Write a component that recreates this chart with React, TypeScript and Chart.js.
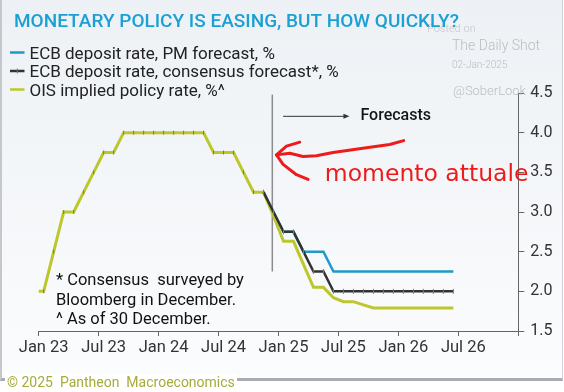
import React, { useEffect, useRef } from "react";
import { Chart, registerables } from "chart.js";

Chart.register(...registerables);

// ---------- data ----------
const months = [
  "Dec 22",
  "Jan 23", "Feb 23", "Mar 23", "Apr 23", "May 23", "Jun 23", "Jul 23", "Aug 23", "Sep 23", "Oct 23", "Nov 23", "Dec 23",
  "Jan 24", "Feb 24", "Mar 24", "Apr 24", "May 24", "Jun 24", "Jul 24", "Aug 24", "Sep 24", "Oct 24", "Nov 24", "Dec 24",
  "Jan 25", "Feb 25", "Mar 25", "Apr 25", "May 25", "Jun 25", "Jul 25", "Aug 25", "Sep 25", "Oct 25", "Nov 25", "Dec 25",
  "Jan 26", "Feb 26", "Mar 26", "Apr 26", "May 26", "Jun 26",
];

// Dec 22 .. Nov 24 (actual deposit rate, shared by all series)
const history = [
  2.0, 2.0, 2.5, 3.0, 3.0, 3.25, 3.5, 3.75, 3.75, 4.0, 4.0, 4.0, 4.0,
  4.0, 4.0, 4.0, 4.0, 4.0, 3.75, 3.75, 3.75, 3.5, 3.25, 3.25,
];

// Dec 24 .. Jun 26
const pmForecast = [3.0, 2.75, 2.75, 2.5, 2.5, 2.5, 2.25, 2.25, 2.25, 2.25, 2.25, 2.25, 2.25, 2.25, 2.25, 2.25, 2.25, 2.25, 2.25];
const consensusForecast = [3.0, 2.75, 2.75, 2.5, 2.25, 2.25, 2.0, 2.0, 2.0, 2.0, 2.0, 2.0, 2.0, 2.0, 2.0, 2.0, 2.0, 2.0, 2.0];
const oisForecast = [2.95, 2.63, 2.63, 2.34, 2.05, 2.05, 1.92, 1.87, 1.87, 1.83, 1.79, 1.79, 1.79, 1.79, 1.79, 1.79, 1.79, 1.79, 1.79];

const xTickLabels = ["Jan 23", "Jul 23", "Jan 24", "Jul 24", "Jan 25", "Jul 25", "Jan 26", "Jul 26", ""];

const seriesLabels = [
  "ECB deposit rate, PM forecast, %",
  "ECB deposit rate, consensus forecast*, %",
  "OIS implied policy rate, %^",
];
const seriesColors = ["#1c9bc8", "#333333", "#bcc72e"];

const titleText = "MONETARY POLICY IS EASING, BUT HOW QUICKLY?";
const footnotes = ["* Consensus  surveyed by", "Bloomberg in December.", "^ As of 30 December."];
const copyright = "© 2025  Pantheon  Macroeconomics";

// annotation positions in data units (x: months since Jan 23, y: rate)
const nowLine = { x: 23.38, top: 4.48, bottom: 2.25 };
const forecastArrow = { x0: 24.46, x1: 31.1, y: 4.206, textX: 32.2 };
const redShaft = [
  [36.53, 3.9], [35.13, 3.85], [32.8, 3.81], [29.46, 3.75], [27.8, 3.71], [26.46, 3.7], [25.13, 3.74], [23.8, 3.72],
];
const redUpper = [[23.8, 3.72], [24.8, 3.83], [26.13, 3.88]];
const redLower = [[23.8, 3.72], [24.46, 3.6], [25.8, 3.47], [26.96, 3.41]];
const redLabel = { x: 28.63, y: 3.47, text: "momento attuale" };

const toPoints = (vals: (number | null)[]) => vals.map((v, i) => ({ x: i - 0.5, y: v }));
const lastOnly = (vals: number[]) => vals.map((v, i) => (i === vals.length - 1 ? v : null));

const FONT = "Roboto, 'Liberation Sans', Arial, sans-serif";

const decor = {
  id: "decor",
  beforeDatasetsDraw(chart: any) {
    const { ctx, scales } = chart;
    const x = scales.x, y = scales.y;
    ctx.save();
    ctx.strokeStyle = "#8c8c8c";
    ctx.lineWidth = 1.5;
    const px = x.getPixelForValue(nowLine.x);
    ctx.beginPath();
    ctx.moveTo(px, y.getPixelForValue(nowLine.top));
    ctx.lineTo(px, y.getPixelForValue(nowLine.bottom));
    ctx.stroke();
    ctx.restore();
  },
  afterDraw(chart: any) {
    const { ctx, scales } = chart;
    const x = scales.x, y = scales.y;
    ctx.save();

    // watermark (under title)
    ctx.textBaseline = "alphabetic";
    ctx.textAlign = "left";
    ctx.fillStyle = "#c6c6c6";
    ctx.font = `300 11px ${FONT}`;
    ctx.fillText("Posted on", 427, 32);
    ctx.font = `300 14px ${FONT}`;
    ctx.fillStyle = "#bcbcbc";
    ctx.fillText("The Daily Shot", 452, 50);
    ctx.font = `300 10px ${FONT}`;
    ctx.fillText("02-Jan-2025", 452, 68);
    ctx.font = `300 13px ${FONT}`;
    ctx.fillText("@SoberLook", 453, 95);

    // title
    ctx.fillStyle = "#1ba0d3";
    ctx.font = `500 19px ${FONT}`;
    ctx.fillText(titleText, 14, 27);

    // legend
    const legendBase = [58.5, 77, 95.5];
    seriesLabels.forEach((lab, i) => {
      const b = legendBase[i];
      ctx.strokeStyle = seriesColors[i];
      ctx.lineWidth = 2.5;
      ctx.beginPath();
      ctx.moveTo(10, b - 6);
      ctx.lineTo(24.5, b - 6);
      ctx.stroke();
      if (i === 1) {
        ctx.lineWidth = 1;
        ctx.strokeStyle = "#777";
        ctx.beginPath();
        ctx.moveTo(17.25, b - 8.5);
        ctx.lineTo(17.25, b - 3.5);
        ctx.stroke();
      }
      ctx.fillStyle = "#222";
      ctx.font = `17px ${FONT}`;
      ctx.fillText(lab, 29.5, b);
    });

    // forecasts arrow
    const ax0 = x.getPixelForValue(forecastArrow.x0);
    const ax1 = x.getPixelForValue(forecastArrow.x1);
    const ay = y.getPixelForValue(forecastArrow.y);
    ctx.strokeStyle = "#333";
    ctx.lineWidth = 1;
    ctx.beginPath();
    ctx.moveTo(ax0, ay);
    ctx.lineTo(ax1 - 4, ay);
    ctx.stroke();
    ctx.fillStyle = "#333";
    ctx.beginPath();
    ctx.moveTo(ax1, ay);
    ctx.lineTo(ax1 - 6, ay - 2.5);
    ctx.lineTo(ax1 - 6, ay + 2.5);
    ctx.closePath();
    ctx.fill();
    ctx.fillStyle = "#151515";
    ctx.font = `500 16px ${FONT}`;
    ctx.textBaseline = "middle";
    ctx.fillText("Forecasts", x.getPixelForValue(forecastArrow.textX), ay);

    // footnotes
    ctx.textBaseline = "alphabetic";
    ctx.fillStyle = "#111";
    ctx.font = `16.5px ${FONT}`;
    const fnBase = [284.5, 304.5, 324];
    footnotes.forEach((t, i) => ctx.fillText(t, 56, fnBase[i]));

    // red hand-drawn arrow
    ctx.strokeStyle = "#ee1b1b";
    ctx.lineWidth = 3;
    ctx.lineJoin = "round";
    ctx.lineCap = "round";
    [redShaft, redUpper, redLower].forEach((path) => {
      ctx.beginPath();
      path.forEach(([vx, vy], i) => {
        const px = x.getPixelForValue(vx), py = y.getPixelForValue(vy);
        if (i === 0) ctx.moveTo(px, py); else ctx.lineTo(px, py);
      });
      ctx.stroke();
    });
    ctx.fillStyle = "#ee1b1b";
    ctx.font = `23.5px 'DejaVu Sans', sans-serif`;
    ctx.textBaseline = "middle";
    ctx.fillText(redLabel.text, x.getPixelForValue(redLabel.x), y.getPixelForValue(redLabel.y));

    // copyright footer
    ctx.textBaseline = "alphabetic";
    ctx.fillStyle = "#a6ab3c";
    ctx.font = `14px ${FONT}`;
    ctx.fillText(copyright, 7, 387);
    ctx.restore();
  },
};

export default function App() {
  const ref = useRef<HTMLCanvasElement | null>(null);

  useEffect(() => {
    if (!ref.current) return;
    const pm = lastOnly(history).concat(pmForecast);
    const cons = lastOnly(history).concat(consensusForecast);
    const ois = (history as (number | null)[]).concat(oisForecast);
    const histLen = history.length;

    const chart = new Chart(ref.current, {
      type: "line",
      data: {
        datasets: [
          {
            label: seriesLabels[1],
            data: toPoints(cons),
            borderColor: seriesColors[1],
            borderWidth: 2.5,
            pointStyle: "line",
            rotation: 90,
            pointRadius: 2.5,
            pointBorderWidth: 1,
            pointBorderColor: "#7a7a7a",
            pointBackgroundColor: "#7a7a7a",
            tension: 0,
            order: 0,
          } as any,
          {
            label: seriesLabels[2],
            data: toPoints(ois),
            borderColor: seriesColors[2],
            borderWidth: 3,
            pointStyle: "line",
            rotation: 90,
            pointRadius: (c: any) => (c.dataIndex > 0 && c.dataIndex < histLen ? 2 : 0),
            pointBorderWidth: 1,
            pointBorderColor: "#777",
            tension: 0,
            clip: 0,
            order: 1,
          } as any,
          {
            label: seriesLabels[0],
            data: toPoints(pm),
            borderColor: seriesColors[0],
            borderWidth: 2.5,
            pointRadius: 0,
            tension: 0,
            order: 2,
          } as any,
        ],
      },
      options: {
        animation: false,
        responsive: false,
        events: [],
        layout: { padding: { left: 38.7, top: 93, right: 0, bottom: 0 } },
        plugins: { legend: { display: false }, tooltip: { enabled: false } },
        scales: {
          x: {
            type: "linear",
            min: 0,
            max: 48,
            afterFit: (s: any) => { s.height = 61; },
            afterBuildTicks: (s: any) => {
              s.ticks = xTickLabels.map((_, i) => ({ value: i * 6 }));
            },
            ticks: {
              autoSkip: false,
              maxRotation: 0,
              padding: 2,
              labelOffset: 5,
              color: "#333",
              font: { family: FONT, size: 16.5 },
              callback: (_v: any, i: number) => xTickLabels[i],
            },
            grid: { drawOnChartArea: false, drawTicks: true, tickLength: 5, color: "#666" },
            border: { display: true, color: "#666", width: 1 },
          } as any,
          y: {
            position: "right",
            min: 1.5,
            max: 4.5,
            afterFit: (s: any) => { s.width = 45.7; },
            ticks: {
              stepSize: 0.5,
              padding: 6,
              color: "#333",
              font: { family: FONT, size: 16 },
              callback: (v: any) => Number(v).toFixed(1),
            },
            grid: { drawOnChartArea: false, drawTicks: true, tickLength: 6, color: "#666" },
            border: { display: true, color: "#666", width: 1 },
          } as any,
        },
      },
      plugins: [decor],
    });
    return () => chart.destroy();
  }, []);

  return (
    <div
      style={{
        position: "absolute",
        left: 0,
        top: 0,
        width: 564,
        height: 392,
        overflow: "hidden",
        background: "#ffffff",
      }}
    >
      <div
        style={{
          position: "absolute",
          left: 0,
          top: 0,
          width: 560,
          height: 378,
          borderLeft: "2px solid #c4c7cc",
          borderRight: "1px solid #d0d3d8",
          borderBottom: "3px solid #a9adb3",
          background: "linear-gradient(#edf1f5, #fbfcfd)",
        }}
      />
      <div style={{ position: "absolute", left: 5, top: 374, width: 232, height: 18, background: "#ffffff" }} />
      <canvas ref={ref} width={564} height={392} style={{ position: "absolute", left: 0, top: 0 }} />
    </div>
  );
}
